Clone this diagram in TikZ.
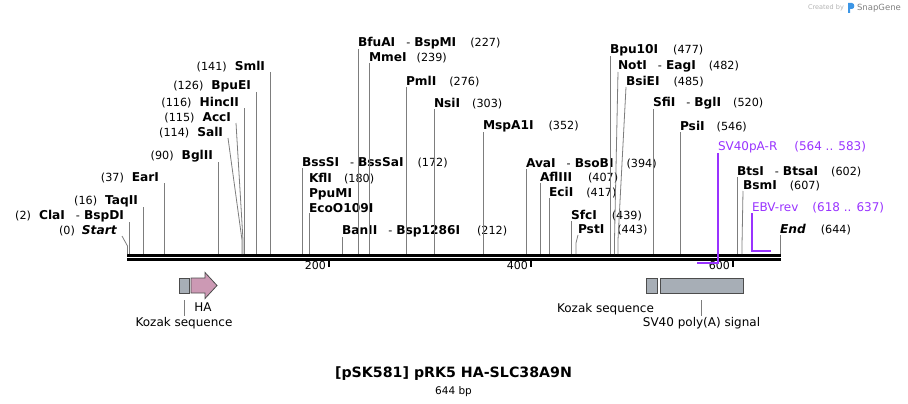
\documentclass[tikz,border=0pt]{standalone}
\usepackage{fontspec}
\setmainfont{DejaVu Sans}
\usetikzlibrary{positioning}
\definecolor{primercol}{RGB}{153,51,255}
\definecolor{featgray}{RGB}{167,174,182}
\definecolor{hapink}{RGB}{204,153,180}
\definecolor{sitegray}{RGB}{125,125,125}
\definecolor{logoblue}{RGB}{60,150,230}
\newcommand{\enz}[1]{{\fontsize{12.2}{13}\selectfont\bfseries #1}}

\begin{document}
\begin{tikzpicture}[x=1pt,y=-1pt,
    font=\fontsize{11.2}{13}\selectfont,
    site/.style={color=sitegray,line width=0.8pt},
    lsite/.style={anchor=south east,inner sep=0pt,outer xsep=5pt,outer ysep=0pt},
    rsite/.style={anchor=south west,inner sep=0pt,outer sep=0pt},
    primer/.style={color=primercol,line width=1.4pt},
    primertext/.style={anchor=south west,inner sep=0pt,outer sep=0pt,color=primercol,font=\fontsize{12}{13}\selectfont},
    feat/.style={draw=black!70,fill=featgray,line width=0.8pt,inner sep=0pt,minimum height=15pt},
    featlabel/.style={inner sep=1pt,anchor=north,font=\fontsize{12}{13}\selectfont}]
    \useasboundingbox (0,0) rectangle (908,404);
    % Backbone, ticks
    \coordinate (bb) at (0,254);
    \draw[line width=3pt] (127,255) -- (781,255);
    \draw[line width=3pt] (127,259.2) -- (781,259.2);
    \draw[line width=1.3pt] (329,261) -- (329,267);
    \draw[line width=1.3pt] (531,261) -- (531,267);
    \draw[line width=1.3pt] (733,261) -- (733,267);
    \node[anchor=north east,inner sep=0pt,font=\fontsize{11}{12}\selectfont] (t200) at (326,261.5) {200};
    \node[anchor=north east,inner sep=0pt,font=\fontsize{11}{12}\selectfont] (t400) at (528,261.5) {400};
    \node[anchor=north east,inner sep=0pt,font=\fontsize{11}{12}\selectfont] (t600) at (730,261.5) {600};
    % Sites, left side
    \node[lsite] (start) at (122,236) {(0)\hspace{7pt}\enz{\textit{Start}}};
    \draw[site] (start.south east) -- ++(5.5,10) -- ++(0,8);
    \node[lsite] (claI) at (129,222) {(2)\hspace{8pt}\enz{ClaI}\hspace{11pt}-\hspace{4pt}\enz{BspDI}};
    \draw[site] (claI.south east) -- (claI.south east |- bb);
    \node[lsite] (taqII) at (143,207) {(16)\hspace{8pt}\enz{TaqII}};
    \draw[site] (taqII.south east) -- (taqII.south east |- bb);
    \node[lsite] (earI) at (164,183) {(37)\hspace{8pt}\enz{EarI}};
    \draw[site] (earI.south east) -- (earI.south east |- bb);
    \node[lsite] (bglII) at (218,162) {(90)\hspace{8pt}\enz{BglII}};
    \draw[site] (bglII.south east) -- (bglII.south east |- bb);
    \node[lsite] (salI) at (228,138) {(114)\hspace{8pt}\enz{SalI}};
    \draw[site] (salI.south east) -- ++(14,102) -- ++(0,14);
    \node[lsite] (accI) at (236,123) {(115)\hspace{8pt}\enz{AccI}};
    \draw[site] (accI.south east) -- ++(7,117) -- ++(0,14);
    \node[lsite] (hincII) at (244,108) {(116)\hspace{8pt}\enz{HincII}};
    \draw[site] (hincII.south east) -- (hincII.south east |- bb);
    \node[lsite] (bpuEI) at (256,92) {(126)\hspace{8pt}\enz{BpuEI}};
    \draw[site] (bpuEI.south east) -- (bpuEI.south east |- bb);
    \node[lsite] (smlI) at (270,72) {(141)\hspace{8pt}\enz{SmlI}};
    \draw[site] (smlI.south east) -- (smlI.south east |- bb);
    % Sites, right side
    \node[rsite] (bssSI) at (302,168) {\enz{BssSI}\hspace{11pt}-\hspace{4pt}\enz{BssSaI}\hspace{14pt}(172)};
    \draw[site] (bssSI.south west) -- (bssSI.south west |- bb);
    \node[rsite,align=left,font=\fontsize{11.2}{15}\selectfont] (kflI) at (309,213) {\enz{KflI}\hspace{12pt}(180)\\\enz{PpuMI}\\\enz{EcoO109I}};
    \draw[site] (kflI.south west) -- (kflI.south west |- bb);
    \node[rsite] (banII) at (342,237) {\enz{BanII}\hspace{11pt}-\hspace{4pt}\enz{Bsp1286I}\hspace{17pt}(212)};
    \draw[site] (banII.south west) -- (banII.south west |- bb);
    \node[rsite] (bfuAI) at (358,49) {\enz{BfuAI}\hspace{11pt}-\hspace{4pt}\enz{BspMI}\hspace{14pt}(227)};
    \draw[site] (bfuAI.south west) -- (bfuAI.south west |- bb);
    \node[rsite] (mmeI) at (369,63) {\enz{MmeI}\hspace{10pt}(239)};
    \draw[site] (mmeI.south west) -- (mmeI.south west |- bb);
    \node[rsite] (pmlI) at (406,87) {\enz{PmlI}\hspace{13pt}(276)};
    \draw[site] (pmlI.south west) -- (pmlI.south west |- bb);
    \node[rsite] (nsiI) at (434,109) {\enz{NsiI}\hspace{12pt}(303)};
    \draw[site] (nsiI.south west) -- (nsiI.south west |- bb);
    \node[rsite] (mspA1I) at (483,132) {\enz{MspA1I}\hspace{15pt}(352)};
    \draw[site] (mspA1I.south west) -- (mspA1I.south west |- bb);
    \node[rsite] (avaI) at (526,169) {\enz{AvaI}\hspace{11pt}-\hspace{4pt}\enz{BsoBI}\hspace{13pt}(394)};
    \draw[site] (avaI.south west) -- (avaI.south west |- bb);
    \node[rsite] (aflIII) at (540,183) {\enz{AflIII}\hspace{16pt}(407)};
    \draw[site] (aflIII.south west) -- (aflIII.south west |- bb);
    \node[rsite] (eciI) at (549,198) {\enz{EciI}\hspace{13pt}(417)};
    \draw[site] (eciI.south west) -- (eciI.south west |- bb);
    \node[rsite] (sfcI) at (571,221) {\enz{SfcI}\hspace{15pt}(439)};
    \draw[site] (sfcI.south west) -- (sfcI.south west |- bb);
    \node[rsite] (pstI) at (578,235) {\enz{PstI}\hspace{13pt}(443)};
    \draw[site] (pstI.south west) -- ++(-2,8) -- ++(0,11);
    \node[rsite] (bpu10I) at (610,56) {\enz{Bpu10I}\hspace{15pt}(477)};
    \draw[site] (bpu10I.south west) -- (bpu10I.south west |- bb);
    \node[rsite] (notI) at (618,72) {\enz{NotI}\hspace{11pt}-\hspace{4pt}\enz{EagI}\hspace{13pt}(482)};
    \draw[site] (notI.south west) -- ++(-3.5,168) -- ++(0,14);
    \node[rsite] (bsiEI) at (626,87) {\enz{BsiEI}\hspace{14pt}(485)};
    \draw[site] (bsiEI.south west) -- ++(-8,153) -- ++(0,14);
    \node[rsite] (sfiI) at (653,109) {\enz{SfiI}\hspace{11pt}-\hspace{4pt}\enz{BglI}\hspace{12pt}(520)};
    \draw[site] (sfiI.south west) -- (sfiI.south west |- bb);
    \node[rsite] (psiI) at (680,132) {\enz{PsiI}\hspace{12pt}(546)};
    \draw[site] (psiI.south west) -- (psiI.south west |- bb);
    \node[rsite] (btsI) at (737,177) {\enz{BtsI}\hspace{11pt}-\hspace{4pt}\enz{BtsaI}\hspace{13pt}(602)};
    \draw[site] (btsI.south west) -- (btsI.south west |- bb);
    \node[rsite] (bsmI) at (743,191) {\enz{BsmI}\hspace{13pt}(607)};
    \draw[site] (bsmI.south west) -- ++(-1,54) -- ++(0,9);
    \node[rsite] (endsite) at (780,235) {\enz{\textit{End}}\hspace{15pt}(644)};
    \draw[site] (endsite.south west) -- (endsite.south west |- bb);
    % Primers
    \node[primertext] (sv40paR) at (718,153) {SV40pA-R\hspace{17pt}(564 .. 583)};
    \draw[primer] (sv40paR.south west) -- ++(0,110) -- ++(-21,0);
    \node[primertext] (ebvRev) at (752,213) {EBV-rev\hspace{14pt}(618 .. 637)};
    \draw[primer] (ebvRev.south west) -- ++(0,38) -- ++(19,0);
    % Features
    \node[feat,minimum width=10pt] (kozakA) at (184,285.5) {};
    \draw[line width=0.8pt,draw=black!70,fill=hapink] (191,278) -- (205,278) -- (205,272.5) -- (217,285.5) -- (205,298.5) -- (205,293) -- (191,293) -- cycle;
    \node[featlabel] (haLbl) at (203,302) {HA};
    \node[featlabel] (kozakALbl) at (184,316) {Kozak sequence};
    \draw[site,line width=0.6pt] ([yshift=-7pt]kozakA.south) -- (kozakALbl.north);
    \node[feat,minimum width=11pt] (kozakB) at (651.5,285.5) {};
    \node[featlabel] (kozakBLbl) at (605.5,302) {Kozak sequence};
    \node[feat,minimum width=83pt] (polyA) at (701.5,285.5) {};
    \node[featlabel] (polyALbl) at (701.5,316) {SV40 poly(A) signal};
    \draw[site,line width=0.6pt] ([yshift=-7pt]polyA.south) -- (polyALbl.north);
    % Title
    \node[font=\bfseries\fontsize{14.2}{16}\selectfont] (title) at (453.5,374) {[pSK581] pRK5 HA-SLC38A9N};
    \node[below=1pt of title,inner sep=1pt,font=\fontsize{10.5}{12}\selectfont] (length) {644 bp};
    % Watermark
    \node[font=\fontsize{6.5}{8}\selectfont,color=black!30] (created) at (826,8) {Created by};
    \fill[logoblue] (848,3) -- (852,3) .. controls (855,3) and (855,9) .. (852,9) -- (850,9) -- (850,13) -- (848,13) -- cycle;
    \node[font=\fontsize{8.5}{10}\selectfont,color=black!50] (snapgene) at (879,8) {SnapGene};
\end{tikzpicture}
\end{document}
